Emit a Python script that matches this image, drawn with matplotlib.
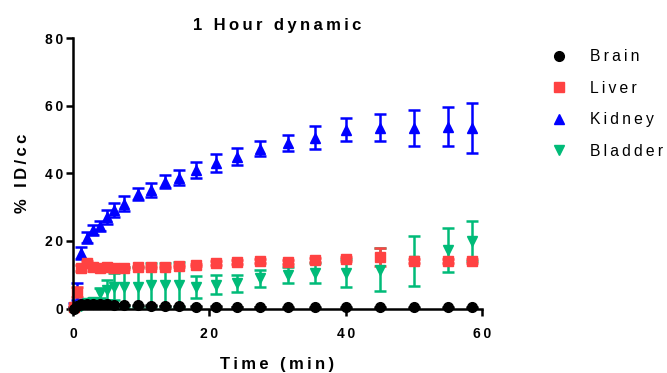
import matplotlib

matplotlib.use("Agg")
import matplotlib.pyplot as plt
from matplotlib.lines import Line2D

plt.rcParams["font.family"] = ["Liberation Sans", "DejaVu Sans"]

# frame mid-times (min)
time_min = [0.1, 0.6, 1.2, 2.0, 3.0, 4.0, 5.0, 6.0, 7.5, 9.5, 11.5, 13.5,
            15.5, 18.0, 21.0, 24.0, 27.5, 31.5, 35.5, 40.0, 45.0, 50.0, 55.0, 58.5]

brain = [0.0, 0.8, 1.2, 1.4, 1.4, 1.3, 1.2, 1.1, 1.0, 0.9, 0.8, 0.7,
         0.6, 0.5, 0.5, 0.4, 0.4, 0.3, 0.3, 0.3, 0.3, 0.3, 0.3, 0.3]
brain_sd = [0.1] * 24

liver = [0.3, 5.0, 12.0, 13.5, 12.3, 12.0, 12.3, 12.0, 12.0, 12.3, 12.3, 12.3,
         12.6, 12.9, 13.5, 13.8, 14.1, 13.8, 14.4, 14.7, 15.3, 14.1, 14.1, 14.1]
liver_sd = [0.3, 1.5, 0.8, 0.6, 0.4, 0.4, 0.4, 0.4, 0.4, 0.4, 0.4, 0.4,
            0.4, 0.4, 0.5, 0.5, 0.5, 0.5, 0.5, 0.6, 2.6, 0.6, 0.6, 0.6]

kidney = [1.0, 5.0, 16.4, 21.0, 23.3, 24.4, 27.1, 29.2, 31.0, 33.9, 35.1, 37.5,
          38.7, 41.0, 43.1, 44.9, 47.3, 49.0, 50.5, 52.9, 53.5, 53.5, 53.8, 53.5]
kidney_sd = [0.5, 2.5, 1.8, 1.5, 1.5, 1.5, 2.0, 2.0, 2.3, 1.8, 2.0, 2.0,
             2.3, 2.3, 2.7, 2.6, 2.3, 2.3, 3.4, 3.4, 4.0, 5.3, 5.8, 7.4]

bladder = [0.0, 0.3, 0.8, 1.5, 2.0, 4.6, 5.5, 6.4, 6.4, 6.4, 7.0, 7.0,
           7.0, 6.3, 7.1, 7.4, 8.9, 9.9, 10.5, 10.5, 11.5, 14.1, 17.3, 20.0]
bladder_sd = [0.3, 0.5, 0.5, 0.5, 1.0, 1.5, 3.0, 4.0, 6.0, 6.0, 6.5, 6.5,
              6.7, 3.2, 2.8, 2.5, 2.5, 2.4, 3.0, 4.2, 6.3, 7.4, 6.5, 6.0]

series = [
    ("Brain", brain, brain_sd, "#000000", "o", 7.0),
    ("Liver", liver, liver_sd, "#FF4242", "s", 7.6),
    ("Kidney", kidney, kidney_sd, "#0000FF", "^", 7.6),
    ("Bladder", bladder, bladder_sd, "#00BB78", "v", 7.6),
]

SP = "\u2009"


def spaced(text):
    return SP.join(text)


fig = plt.figure(figsize=(6.67, 3.73), dpi=100)
ax = fig.add_axes([0.1094, 0.1729, 0.6132, 0.7252])

# last data set is drawn first, so brain ends up on top
for name, values, sd, color, marker, size in reversed(series):
    ax.errorbar(time_min, values, yerr=sd, fmt=marker, color=color,
                markersize=size, elinewidth=1.8,
                capsize=4.3, capthick=1.8, clip_on=False)

ax.set_xlim(0, 60)
ax.set_ylim(0, 80)
ax.set_xticks([0, 20, 40, 60])
ax.set_yticks([0, 20, 40, 60, 80])
ax.set_xticklabels([spaced(str(v)) for v in [0, 20, 40, 60]],
                   fontsize=10, fontweight="bold")
ax.set_yticklabels([spaced(str(v)) for v in [0, 20, 40, 60, 80]],
                   fontsize=10, fontweight="bold")
ax.tick_params(axis="both", direction="out", length=5, width=1.8)
ax.tick_params(axis="x", pad=8)
ax.tick_params(axis="y", pad=2)

for side in ("top", "right"):
    ax.spines[side].set_visible(False)
for side in ("left", "bottom"):
    ax.spines[side].set_linewidth(1.8)

ax.set_xlabel(spaced("Time (min)"), fontsize=12, fontweight="bold", labelpad=12)
ax.set_ylabel(spaced("% ID/cc"), fontsize=12, fontweight="bold", labelpad=11)
ax.set_title(spaced("1 Hour dynamic"), fontsize=12, fontweight="bold", pad=6)

handles = [Line2D([], [], linestyle="none", marker=m, color=c, markersize=s)
           for _, _, _, c, m, s in series]
labels = [spaced(name) for name, *_ in series]
fig.legend(handles, labels, loc="upper left", bbox_to_anchor=(0.805, 0.885),
           frameon=False, fontsize=11.3, handletextpad=1.0, labelspacing=1.05,
           borderaxespad=0)

fig.savefig("out.png", dpi=100)
